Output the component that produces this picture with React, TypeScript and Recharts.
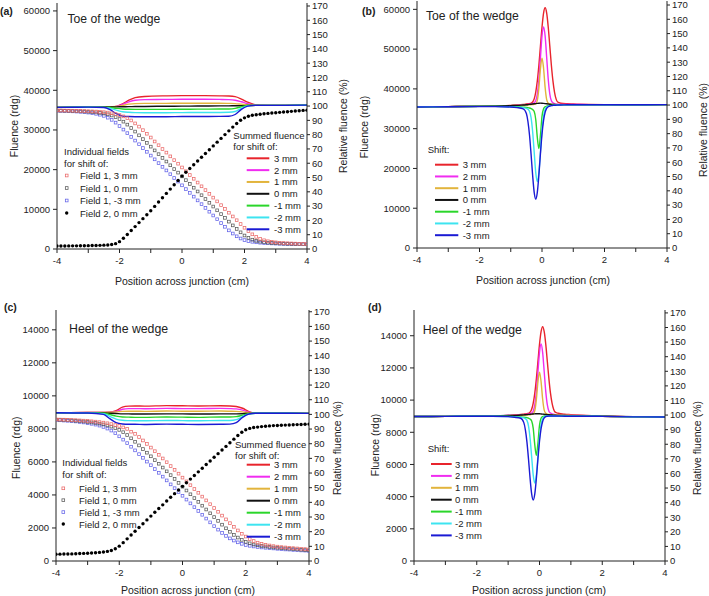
import React from "react";
import { ComposedChart, Line, Scatter, XAxis, YAxis, Legend, Customized } from "recharts";

const FONT = "'Liberation Sans', Arial, Helvetica, sans-serif";
const INK = "#222";

// ---------- x grids (cm) ----------
const fieldPos = [
  -4, -3.875, -3.75, -3.625, -3.5, -3.375, -3.25, -3.125, -3,
  -2.875, -2.75, -2.625, -2.5, -2.375, -2.25, -2.125, -2,
  -1.875, -1.75, -1.625, -1.5, -1.375, -1.25, -1.125, -1,
  -0.875, -0.75, -0.625, -0.5, -0.375, -0.25, -0.125, 0,
  0.125, 0.25, 0.375, 0.5, 0.625, 0.75, 0.875, 1,
  1.125, 1.25, 1.375, 1.5, 1.625, 1.75, 1.875, 2,
  2.125, 2.25, 2.375, 2.5, 2.625, 2.75, 2.875, 3,
  3.125, 3.25, 3.375, 3.5, 3.625, 3.75, 3.875, 4,
];
const sumPos = [-4, -3, -2.5, -2.3, -2.1, -1.9, -1.7, -1.5, -1.2, -0.5, 0, 0.5, 1.2, 1.5, 1.7, 1.9, 2.1, 2.3, 2.5, 3, 4];
const peakPos = [
  -4, -3, -2, -1.5, -1, -0.8, -0.6,
  -0.5, -0.45, -0.4, -0.35, -0.3, -0.25, -0.2, -0.15, -0.1, -0.05, 0,
  0.05, 0.1, 0.15, 0.2, 0.25, 0.3, 0.35, 0.4, 0.45, 0.5,
  0.6, 0.8, 1, 1.5, 2, 3, 4,
];

// ---------- labels / colours ----------
const shiftNames = ["3 mm", "2 mm", "1 mm", "0 mm", "-1 mm", "-2 mm", "-3 mm"];
const shiftColors = ["#e8242c", "#f02cf0", "#e2b43c", "#111111", "#2ad62a", "#3de4f0", "#1a1ad4"];
const fieldNames = ["Field 1, 3 mm", "Field 1, 0 mm", "Field 1, -3 mm", "Field 2, 0 mm"];
const fieldColors = ["#ea6868", "#585858", "#6262e8", "#000000"];
const xTicks = [-4, -3, -2, -1, 0, 1, 2, 3, 4];
const relTicks = [0, 10, 20, 30, 40, 50, 60, 70, 80, 90, 100, 110, 120, 130, 140, 150, 160, 170];
const toeTicks = [0, 10000, 20000, 30000, 40000, 50000, 60000];
const heelTicks = [0, 2000, 4000, 6000, 8000, 10000, 12000, 14000];

// ---------- (a) toe, individual fields ----------
const toeF1Plus3 = [
  34920, 34910, 34900, 34880, 34860, 34830, 34800, 34770, 34730,
  34690, 34640, 34570, 34480, 34380, 34200, 34000, 33750,
  33420, 32950, 32400, 31650, 30850, 29950, 29050, 28100,
  27100, 26150, 25200, 24300, 23350, 22400, 21500, 20550,
  19600, 18650, 17700, 16750, 15800, 14850, 13900, 12950,
  12000, 11050, 10100, 9150, 8200, 7250, 6300, 5350,
  4500, 3700, 3050, 2550, 2200, 1950, 1780, 1670,
  1580, 1500, 1450, 1400, 1360, 1320, 1290, 1260,
];
const toeF1Zero = [
  34900, 34880, 34850, 34820, 34780, 34740, 34700, 34650, 34600,
  34520, 34430, 34300, 34150, 33950, 33650, 33250, 32750,
  32100, 31350, 30500, 29600, 28650, 27700, 26750, 25800,
  24850, 23900, 22950, 22050, 21100, 20150, 19250, 18300,
  17350, 16400, 15450, 14500, 13550, 12600, 11650, 10700,
  9750, 8800, 7850, 6900, 5950, 5050, 4200, 3400,
  2800, 2350, 2050, 1850, 1700, 1600, 1520, 1450,
  1400, 1360, 1320, 1290, 1260, 1230, 1210, 1190,
];
const toeF1Minus3 = [
  34840, 34810, 34780, 34740, 34690, 34640, 34570, 34480, 34380,
  34250, 34080, 33850, 33560, 33100, 32550, 31850, 31000,
  30100, 29200, 28250, 27330, 26400, 25450, 24500, 23550,
  22600, 21650, 20700, 19800, 18850, 17900, 17000, 16050,
  15100, 14150, 13200, 12250, 11300, 10350, 9400, 8450,
  7500, 6550, 5600, 4700, 3900, 3200, 2650, 2250,
  2000, 1820, 1690, 1590, 1510, 1450, 1400, 1360,
  1320, 1290, 1260, 1240, 1220, 1200, 1190, 1180,
];
const toeF2Zero = [
  750, 760, 770, 780, 790, 800, 815, 830, 850,
  870, 895, 925, 965, 1020, 1120, 1350, 1850,
  2700, 3650, 4650, 5650, 6650, 7650, 8650, 9650,
  10740, 11830, 12920, 14010, 15100, 16190, 17280, 18370,
  19330, 20280, 21230, 22180, 23130, 24080, 25030, 25980,
  26930, 27880, 28830, 29780, 30720, 31620, 32450, 33050,
  33450, 33700, 33850, 33970, 34070, 34170, 34260, 34350,
  34440, 34530, 34610, 34690, 34770, 34850, 34930, 35000,
];

// ---------- (a) toe, summed fluence ----------
const toeSum3 = [35700, 35750, 35800, 35850, 35950, 36600, 37500, 38150, 38450, 38600, 38650, 38650, 38600, 38550, 38400, 37800, 37000, 36450, 36250, 36200, 36250];
const toeSum2 = [35700, 35750, 35800, 35850, 35950, 36450, 37100, 37500, 37650, 37700, 37750, 37750, 37700, 37650, 37500, 37100, 36600, 36300, 36200, 36200, 36250];
const toeSum1 = [35700, 35750, 35800, 35850, 35900, 36200, 36500, 36650, 36700, 36700, 36750, 36750, 36750, 36700, 36650, 36500, 36350, 36250, 36200, 36200, 36250];
const toeSum0 = [35700, 35750, 35780, 35800, 35820, 35850, 35880, 35900, 35930, 35980, 36000, 36030, 36060, 36080, 36100, 36120, 36150, 36180, 36200, 36200, 36250];
const toeSumM1 = [35700, 35750, 35750, 35650, 35450, 35300, 35230, 35200, 35200, 35200, 35220, 35250, 35280, 35300, 35450, 35850, 36150, 36200, 36200, 36200, 36250];
const toeSumM2 = [35700, 35750, 35700, 35450, 35000, 34600, 34450, 34380, 34350, 34350, 34380, 34400, 34420, 34450, 34650, 35450, 36050, 36200, 36200, 36200, 36250];
const toeSumM3 = [35700, 35750, 35650, 35100, 34100, 33500, 33380, 33350, 33350, 33350, 33380, 33400, 33420, 33450, 33900, 35200, 36000, 36200, 36200, 36200, 36250];

// ---------- (b) toe, shift profiles ----------
const toePeak3 = [35500, 35550, 35650, 35750, 35850, 35950, 36100, 36200, 36250, 36300, 36400, 36700, 37500, 39200, 42000, 45950, 50750, 55500, 59060, 60400, 59060, 55500, 50750, 45950, 42000, 39200, 37500, 36700, 36400, 36250, 36200, 36100, 36050, 36000, 36050];
const toePeak2 = [35500, 35550, 35650, 35700, 35800, 35900, 36000, 36050, 36100, 36150, 36200, 36300, 36500, 37000, 38700, 42300, 47850, 53300, 55600, 53300, 47900, 42400, 38700, 37000, 36500, 36300, 36200, 36150, 36100, 36100, 36100, 36050, 36050, 36000, 36050];
const toePeak1 = [35500, 35550, 35650, 35700, 35800, 35850, 35900, 35950, 35970, 36000, 36030, 36070, 36150, 36250, 37100, 40200, 45100, 47750, 45200, 40400, 37300, 36400, 36200, 36150, 36100, 36100, 36080, 36060, 36050, 36050, 36050, 36050, 36050, 36000, 36050];
const toePeak0 = [35500, 35550, 35650, 35700, 35800, 35850, 35950, 36000, 36050, 36100, 36150, 36200, 36250, 36300, 36350, 36400, 36420, 36400, 36350, 36300, 36250, 36200, 36150, 36100, 36080, 36060, 36050, 36050, 36050, 36050, 36050, 36050, 36050, 36000, 36050];
const toePeakM1 = [35500, 35550, 35600, 35600, 35550, 35500, 35400, 35350, 35300, 35200, 35050, 34800, 34300, 32300, 27800, 25000, 28300, 33100, 35000, 35500, 35650, 35750, 35800, 35850, 35900, 35900, 35950, 35950, 36000, 36000, 36000, 36000, 36000, 36000, 36050];
const toePeakM2 = [35500, 35550, 35600, 35600, 35500, 35400, 35250, 35100, 34900, 34400, 32800, 29300, 24100, 18950, 16700, 18950, 24200, 29600, 33200, 34900, 35450, 35650, 35750, 35800, 35850, 35900, 35900, 35950, 35950, 36000, 36000, 36000, 36000, 36000, 36050];
const toePeakM3 = [35450, 35500, 35550, 35550, 35450, 35300, 35000, 33800, 31800, 28400, 23600, 18300, 14000, 12300, 14000, 18300, 23700, 28600, 32100, 34100, 35100, 35500, 35700, 35800, 35850, 35900, 35900, 35950, 35950, 36000, 36000, 36000, 36000, 36000, 36050];

// ---------- (c) heel, individual fields ----------
const heelF1Plus3 = [
  8570, 8565, 8560, 8550, 8540, 8530, 8515, 8500, 8480,
  8460, 8440, 8410, 8380, 8340, 8290, 8230, 8180,
  8090, 8000, 7830, 7700, 7510, 7300, 7090, 6870,
  6650, 6430, 6210, 5980, 5750, 5520, 5290, 5050,
  4820, 4590, 4360, 4130, 3900, 3670, 3440, 3210,
  2980, 2750, 2520, 2290, 2070, 1850, 1650, 1480,
  1330, 1210, 1110, 1040, 980, 940, 900, 870,
  840, 820, 800, 780, 760, 740, 720, 700,
];
const heelF1Zero = [
  8560, 8550, 8540, 8530, 8510, 8490, 8470, 8450, 8420,
  8390, 8360, 8320, 8270, 8210, 8140, 8050, 7940,
  7800, 7630, 7430, 7220, 7000, 6780, 6560, 6340,
  6110, 5890, 5660, 5430, 5200, 4970, 4730, 4500,
  4270, 4040, 3810, 3580, 3350, 3120, 2890, 2660,
  2430, 2200, 1980, 1770, 1580, 1420, 1280, 1160,
  1070, 1000, 950, 910, 880, 850, 820, 800,
  780, 760, 740, 720, 700, 680, 660, 640,
];
const heelF1Minus3 = [
  8535, 8520, 8505, 8490, 8470, 8450, 8420, 8390, 8350,
  8310, 8260, 8200, 8120, 8020, 7900, 7740, 7550,
  7350, 7140, 6920, 6700, 6470, 6250, 6020, 5800,
  5570, 5340, 5110, 4880, 4640, 4410, 4180, 3950,
  3720, 3490, 3260, 3030, 2800, 2570, 2340, 2110,
  1900, 1700, 1520, 1370, 1240, 1130, 1040, 970,
  920, 880, 850, 820, 800, 780, 760, 740,
  720, 700, 690, 670, 660, 640, 630, 610,
];
const heelF2Zero = [
  410, 415, 420, 425, 430, 440, 450, 460, 470,
  485, 500, 520, 545, 580, 640, 740, 900,
  1110, 1340, 1570, 1800, 2030, 2260, 2490, 2720,
  2950, 3180, 3400, 3630, 3860, 4080, 4300, 4520,
  4740, 4960, 5180, 5400, 5620, 5840, 6060, 6280,
  6500, 6720, 6940, 7160, 7380, 7600, 7800, 7950,
  8030, 8080, 8110, 8140, 8160, 8180, 8200, 8210,
  8220, 8230, 8240, 8250, 8260, 8270, 8280, 8290,
];

// ---------- (c) heel, summed fluence ----------
const heelSum3 = [8980, 8990, 9000, 9010, 9100, 9320, 9380, 9390, 9380, 9410, 9400, 9390, 9400, 9390, 9360, 9250, 9050, 8970, 8960, 8950, 8940];
const heelSum2 = [8980, 8990, 9000, 9010, 9060, 9190, 9230, 9230, 9220, 9240, 9230, 9230, 9240, 9230, 9210, 9140, 9010, 8970, 8960, 8950, 8940];
const heelSum1 = [8980, 8990, 9000, 9010, 9030, 9060, 9070, 9070, 9060, 9080, 9070, 9070, 9080, 9070, 9060, 9030, 8980, 8960, 8955, 8950, 8940];
const heelSum0 = [8980, 8980, 8970, 8950, 8930, 8910, 8910, 8900, 8900, 8910, 8910, 8900, 8910, 8910, 8910, 8920, 8940, 8950, 8950, 8950, 8940];
const heelSumM1 = [8980, 8980, 8950, 8870, 8770, 8720, 8710, 8700, 8700, 8720, 8710, 8700, 8720, 8720, 8740, 8830, 8920, 8950, 8950, 8950, 8940];
const heelSumM2 = [8980, 8970, 8920, 8760, 8590, 8520, 8500, 8490, 8490, 8510, 8500, 8490, 8510, 8510, 8560, 8740, 8910, 8950, 8950, 8950, 8940];
const heelSumM3 = [8980, 8960, 8880, 8620, 8380, 8300, 8280, 8280, 8270, 8290, 8280, 8270, 8280, 8290, 8380, 8700, 8900, 8950, 8950, 8950, 8940];

// ---------- (d) heel, shift profiles ----------
const heelPeak3 = [8980, 8990, 9010, 9030, 9050, 9080, 9110, 9130, 9140, 9160, 9180, 9250, 9430, 9810, 10430, 11320, 12390, 13460, 14250, 14560, 14250, 13460, 12390, 11320, 10430, 9810, 9430, 9250, 9180, 9120, 9100, 9050, 9000, 8970, 8950];
const heelPeak2 = [8980, 8990, 9010, 9020, 9040, 9060, 9090, 9100, 9110, 9120, 9130, 9150, 9200, 9310, 9700, 10510, 11750, 12970, 13490, 12970, 11760, 10530, 9700, 9310, 9200, 9150, 9120, 9100, 9080, 9060, 9050, 9030, 9000, 8970, 8950];
const heelPeak1 = [8980, 8990, 9010, 9020, 9030, 9040, 9050, 9060, 9065, 9070, 9080, 9090, 9110, 9150, 9340, 10030, 11130, 11730, 11150, 10070, 9380, 9180, 9130, 9110, 9100, 9090, 9085, 9080, 9070, 9060, 9050, 9030, 9000, 8970, 8950];
const heelPeak0 = [8980, 8990, 9010, 9020, 9040, 9050, 9070, 9080, 9090, 9100, 9110, 9120, 9130, 9140, 9145, 9150, 9155, 9150, 9140, 9130, 9120, 9110, 9100, 9090, 9080, 9070, 9065, 9060, 9050, 9040, 9030, 9020, 9000, 8970, 8950];
const heelPeakM1 = [8980, 8990, 9000, 9000, 8990, 8970, 8950, 8930, 8920, 8910, 8875, 8820, 8700, 8240, 7210, 6570, 7330, 8430, 8870, 8980, 9010, 9020, 9020, 9020, 9020, 9020, 9020, 9020, 9020, 9010, 9010, 9000, 8990, 8960, 8950];
const heelPeakM2 = [8980, 8990, 9000, 9000, 8980, 8960, 8930, 8890, 8850, 8740, 8390, 7620, 6470, 5340, 4840, 5340, 6490, 7680, 8470, 8850, 8970, 9000, 9010, 9010, 9010, 9010, 9010, 9010, 9010, 9000, 9000, 9000, 8990, 8960, 8950];
const heelPeakM3 = [8980, 8990, 9000, 9000, 8970, 8930, 8870, 8600, 8150, 7390, 6320, 5130, 4170, 3790, 4170, 5130, 6340, 7440, 8220, 8670, 8890, 8980, 9000, 9010, 9010, 9010, 9010, 9010, 9010, 9000, 9000, 9000, 8990, 8960, 8950];

type Pt = { x: number; y: number };
const pts = (xs: number[], ys: number[]): Pt[] => xs.map((x, i) => ({ x, y: ys[i] }));

const toeSums = [toeSum3, toeSum2, toeSum1, toeSum0, toeSumM1, toeSumM2, toeSumM3];
const heelSums = [heelSum3, heelSum2, heelSum1, heelSum0, heelSumM1, heelSumM2, heelSumM3];
const toePeaks = [toePeak3, toePeak2, toePeak1, toePeak0, toePeakM1, toePeakM2, toePeakM3];
const heelPeaks = [heelPeak3, heelPeak2, heelPeak1, heelPeak0, heelPeakM1, heelPeakM2, heelPeakM3];
const toeFields = [toeF1Plus3, toeF1Zero, toeF1Minus3, toeF2Zero];
const heelFields = [heelF1Plus3, heelF1Zero, heelF1Minus3, heelF2Zero];

const SQ = 2.7;

// open squares for field 1, filled dots for field 2
const squareShape = (color: string) => (props: any) => {
  const { cx, cy } = props;
  if (cx == null || cy == null) return <g />;
  return <rect x={cx - SQ / 2} y={cy - SQ / 2} width={SQ} height={SQ} fill="none" stroke={color} strokeWidth={0.75} />;
};
const dotShape = (props: any) => {
  const { cx, cy } = props;
  if (cx == null || cy == null) return <g />;
  return <circle cx={cx} cy={cy} r={1.7} fill="#000" />;
};

interface LegendCfg {
  fields?: { x: number; headY: number[]; rowY: number; dy: number; mx: number; tx: number };
  lines: { x: number; head: string[]; headY: number[]; rowY: number; dy: number; x1: number; x2: number; tx: number };
}

interface PanelCfg {
  left: number;
  top: number;
  width: number;
  height: number;
  marginTop: number;
  leftW: number;
  rightW: number;
  xH: number;
  yMax: number;
  rMax: number;
  yTicks: number[];
  letter: [number, number];
  title: string;
  titlePos: [number, number];
  titleSize: number;
  xTitle: [number, number];
  yTitle: [number, number];
  rTitle: [number, number];
  lines: number[][];
  linePos: number[];
  fields?: number[][];
  legend: LegendCfg;
  letterText: string;
}

const txt = { fontFamily: FONT, fill: INK } as const;

function LegendBox({ cfg, w, h }: { cfg: LegendCfg; w: number; h: number }) {
  const f = cfg.fields;
  const l = cfg.lines;
  return (
    <svg width={w} height={h} style={{ overflow: "visible" }}>
      {f && (
        <g>
          <text x={f.x} y={f.headY[0]} fontSize={9.5} dominantBaseline="central" {...txt}>Individual fields</text>
          <text x={f.x} y={f.headY[1]} fontSize={9.5} dominantBaseline="central" {...txt}>for shift of:</text>
          {fieldNames.map((n, i) => {
            const y = f.rowY + i * f.dy;
            return (
              <g key={n}>
                {i < 3 ? (
                  <rect x={f.mx - SQ / 2} y={y - SQ / 2} width={SQ} height={SQ} fill="none" stroke={fieldColors[i]} strokeWidth={0.75} />
                ) : (
                  <circle cx={f.mx} cy={y} r={1.7} fill="#000" />
                )}
                <text x={f.tx} y={y} fontSize={9.5} dominantBaseline="central" {...txt}>{n}</text>
              </g>
            );
          })}
        </g>
      )}
      {l.head.map((s, i) => (
        <text key={s} x={l.x} y={l.headY[i]} fontSize={9.5} dominantBaseline="central" {...txt}>{s}</text>
      ))}
      {shiftNames.map((n, i) => {
        const y = l.rowY + i * l.dy;
        return (
          <g key={n}>
            <line x1={l.x1} x2={l.x2} y1={y} y2={y} stroke={shiftColors[i]} strokeWidth={2} />
            <text x={l.tx} y={y} fontSize={9.5} dominantBaseline="central" {...txt}>{n}</text>
          </g>
        );
      })}
    </svg>
  );
}

function Panel({ c }: { c: PanelCfg }) {
  const tick = { fontSize: 9.5, fill: INK, fontFamily: FONT };
  const axisLine = { stroke: "#222", strokeWidth: 1 };
  const Notes = () => (
    <g>
      <text x={c.letter[0]} y={c.letter[1]} fontSize={10.5} fontWeight="bold" dominantBaseline="central" {...txt}>{c.letterText}</text>
      <text x={c.titlePos[0]} y={c.titlePos[1]} fontSize={c.titleSize} dominantBaseline="central" {...txt}>{c.title}</text>
      <text x={c.xTitle[0]} y={c.xTitle[1]} fontSize={10.5} textAnchor="middle" dominantBaseline="central" {...txt}>Position across junction (cm)</text>
      <text x={c.yTitle[0]} y={c.yTitle[1]} fontSize={10.5} textAnchor="middle" dominantBaseline="central" transform={`rotate(-90 ${c.yTitle[0]} ${c.yTitle[1]})`} {...txt}>Fluence (rdg)</text>
      <text x={c.rTitle[0]} y={c.rTitle[1]} fontSize={10.5} textAnchor="middle" dominantBaseline="central" transform={`rotate(-90 ${c.rTitle[0]} ${c.rTitle[1]})`} {...txt}>Relative fluence (%)</text>
    </g>
  );
  return (
    <div style={{ position: "absolute", left: c.left, top: c.top, width: c.width, height: c.height }}>
      <ComposedChart width={c.width} height={c.height} margin={{ top: c.marginTop, right: 0, bottom: 0, left: 0 }}>
        <XAxis
          xAxisId="bottom"
          type="number"
          dataKey="x"
          domain={[-4, 4]}
          ticks={xTicks}
          allowDataOverflow
          height={c.xH}
          tick={tick}
          tickFormatter={(v: number) => (v % 2 === 0 ? String(v) : "")}
          tickSize={4}
          tickMargin={4}
          axisLine={axisLine}
          tickLine={axisLine}
          interval={0}
        />
        <XAxis
          xAxisId="top"
          orientation="top"
          type="number"
          dataKey="x"
          domain={[-4, 4]}
          ticks={xTicks}
          allowDataOverflow
          height={0}
          mirror
          tick={false}
          tickSize={3}
          axisLine={axisLine}
          tickLine={axisLine}
          interval={0}
        />
        <YAxis
          yAxisId="left"
          type="number"
          domain={[0, c.yMax]}
          ticks={c.yTicks}
          allowDataOverflow
          width={c.leftW}
          tick={tick}
          tickSize={4}
          tickMargin={3}
          axisLine={axisLine}
          tickLine={axisLine}
          interval={0}
        />
        <YAxis
          yAxisId="right"
          orientation="right"
          type="number"
          domain={[0, c.rMax]}
          ticks={relTicks}
          allowDataOverflow
          width={c.rightW}
          tick={tick}
          tickSize={3}
          tickMargin={2}
          axisLine={axisLine}
          tickLine={axisLine}
          interval={0}
        />
        {c.fields &&
          [2, 1, 0].map((i) => (
            <Scatter
              key={fieldNames[i]}
              name={fieldNames[i]}
              xAxisId="bottom"
              yAxisId="left"
              data={pts(fieldPos, c.fields![i])}
              dataKey="y"
              shape={squareShape(fieldColors[i])}
              isAnimationActive={false}
            />
          ))}
        {c.fields && (
          <Scatter
            name={fieldNames[3]}
            xAxisId="bottom"
            yAxisId="left"
            data={pts(fieldPos, c.fields[3])}
            dataKey="y"
            shape={dotShape}
            isAnimationActive={false}
          />
        )}
        {c.lines.map((ys, i) => (
          <Line
            key={shiftNames[i]}
            name={shiftNames[i]}
            xAxisId="bottom"
            yAxisId="left"
            data={pts(c.linePos, ys)}
            dataKey="y"
            type="monotone"
            stroke={shiftColors[i]}
            strokeWidth={1.4}
            dot={false}
            activeDot={false}
            isAnimationActive={false}
          />
        ))}
        <Legend
          layout="horizontal"
          verticalAlign="middle"
          align="center"
          wrapperStyle={{ left: 0, top: 0, width: c.width, height: c.height, pointerEvents: "none" }}
          content={() => <LegendBox cfg={c.legend} w={c.width} h={c.height} />}
        />
        <Customized component={Notes} />
      </ComposedChart>
    </div>
  );
}

const panelA: PanelCfg = {
  left: 0, top: 0, width: 354, height: 298, marginTop: 3, leftW: 57, rightW: 47, xH: 49,
  yMax: 62000, rMax: 172.1, yTicks: toeTicks,
  letter: [0, 11], letterText: "(a)",
  title: "Toe of the wedge", titlePos: [67.5, 19], titleSize: 12.2,
  xTitle: [182, 281], yTitle: [13.5, 126], rTitle: [343, 126],
  lines: toeSums, linePos: sumPos, fields: toeFields,
  legend: {
    fields: { x: 64, headY: [151.7, 163.3], rowY: 175.5, dy: 12.5, mx: 66.7, tx: 80 },
    lines: { x: 233.3, head: ["Summed fluence", "for shift of:"], headY: [135, 146.7], rowY: 158.3, dy: 11.83, x1: 246.7, x2: 269.3, tx: 274 },
  },
};

const panelB: PanelCfg = {
  left: 355, top: 0, width: 354, height: 298, marginTop: 1, leftW: 62, rightW: 42, xH: 50,
  yMax: 62100, rMax: 172.8, yTicks: toeTicks,
  letter: [7, 11], letterText: "(b)",
  title: "Toe of the wedge", titlePos: [71, 16], titleSize: 12.2,
  xTitle: [188, 279.5], yTitle: [8.5, 127], rTitle: [348, 130],
  lines: toePeaks, linePos: peakPos,
  legend: {
    lines: { x: 72.7, head: ["Shift:"], headY: [149], rowY: 164.7, dy: 11.75, x1: 80, x2: 103.3, tx: 107.7 },
  },
};

const panelC: PanelCfg = {
  left: 0, top: 300, width: 354, height: 296, marginTop: 10, leftW: 56, rightW: 45, xH: 35,
  yMax: 15200, rMax: 171.2, yTicks: heelTicks,
  letter: [4, 6.7], letterText: "(c)",
  title: "Heel of the wedge", titlePos: [69, 29.3], titleSize: 12.3,
  xTitle: [188, 290], yTitle: [16, 147.7], rTitle: [336.7, 148],
  lines: heelSums, linePos: sumPos, fields: heelFields,
  legend: {
    fields: { x: 62.3, headY: [162.7, 174], rowY: 188.3, dy: 11.9, mx: 63.3, tx: 79 },
    lines: { x: 235, head: ["Summed fluence", "for shift of:"], headY: [144, 155], rowY: 164.7, dy: 12, x1: 246.7, x2: 270, tx: 274 },
  },
};

const panelD: PanelCfg = {
  left: 355, top: 300, width: 354, height: 296, marginTop: 10, leftW: 59, rightW: 44, xH: 35,
  yMax: 15600, rMax: 172, yTicks: heelTicks,
  letter: [13, 7], letterText: "(d)",
  title: "Heel of the wedge", titlePos: [67.7, 30], titleSize: 12.3,
  xTitle: [184, 290], yTitle: [20, 145], rTitle: [341.7, 148],
  lines: heelPeaks, linePos: peakPos,
  legend: {
    lines: { x: 72.7, head: ["Shift:"], headY: [148], rowY: 164, dy: 11.9, x1: 76, x2: 96.7, tx: 100 },
  },
};

export default function App() {
  return (
    <div style={{ position: "absolute", left: 0, top: 0, width: 709, height: 596, background: "#fff", overflow: "hidden" }}>
      <Panel c={panelA} />
      <Panel c={panelB} />
      <Panel c={panelC} />
      <Panel c={panelD} />
    </div>
  );
}
